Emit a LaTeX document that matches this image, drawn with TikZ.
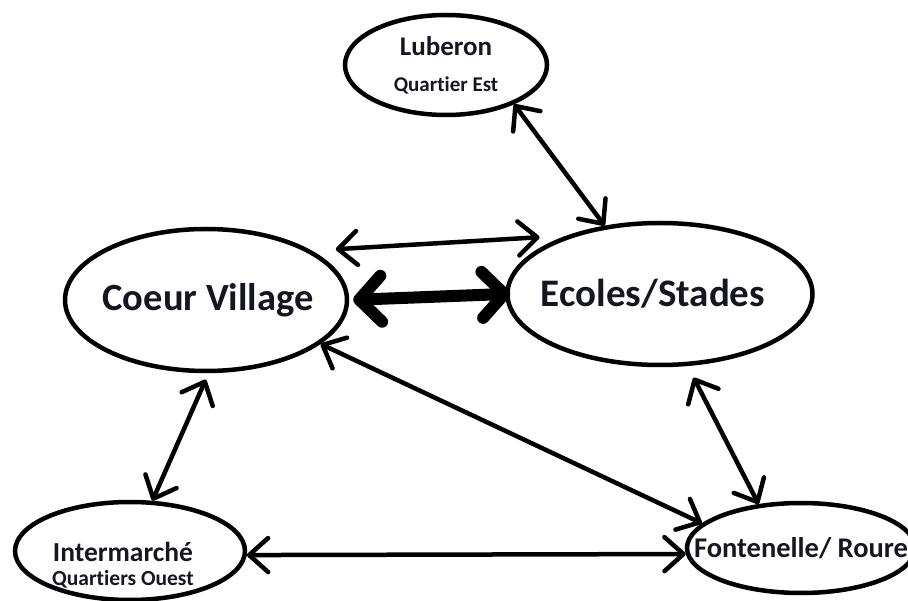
\documentclass[tikz,border=0pt]{standalone}
\usepackage{fontspec}
\setmainfont{Carlito}[Ligatures=NoCommon]
\usetikzlibrary{arrows.meta, shapes.geometric}
\definecolor{ink}{RGB}{22,22,34}

\begin{document}
\begin{tikzpicture}[x=1pt,y=-1pt,<->,>={Straight Barb[length=19pt,width=34pt,round]},
 line width=4.5pt,
 main node/.style={ellipse,draw,line width=4.5pt,inner sep=0pt},
 lab/.style={align=center,text=ink}]
\useasboundingbox (0,0) rectangle (908,601);

\node[main node,minimum width=202pt,minimum height=100pt](lub) at (446,65)
  [label={[lab,font=\fontsize{27}{36}\bfseries]center:Luberon\\{\fontsize{21}{36}\selectfont Quartier Est}}]{};
\node[main node,minimum width=282pt,minimum height=142pt](cv) at (206,300)
  [label={[lab,xshift=2pt,font=\fontsize{38.5}{40}\bfseries]center:Coeur Village}]{};
\node[main node,minimum width=305pt,minimum height=142pt](es) at (660,294)
  [label={[lab,xshift=-7pt,font=\fontsize{39}{40}\bfseries]center:Ecoles/Stades}]{};
\node[main node,minimum width=230pt,minimum height=98pt](im) at (130,551)
  [label={[lab,xshift=-7pt,yshift=-14pt,font=\fontsize{27.5}{24}\bfseries]center:Intermarché\\{\fontsize{21.5}{24}\selectfont Quartiers Ouest}}]{};
\node[main node,minimum width=228pt,minimum height=90pt](fr) at (801,548)
  [label={[lab,font=\fontsize{28.5}{30}\bfseries]center:Fontenelle/ Roure}]{};

 \path
   (lub.-30) edge (es.129)
   (cv.25) edge[shorten <=24pt,shorten >=27pt] (es.148)
   (cv.-21) edge (fr.166)
   (cv.-88) edge[shorten <=7pt] (im.66)
   (es.-69) edge[shorten <=13pt] (fr.134)
   (im.-2) edge (fr.183);
 \path[line width=12pt,>={Straight Barb[length=22pt,width=46pt,round]}]
   (cv.east) edge[shorten <=4pt,shorten >=-5pt] (es.west);

\end{tikzpicture}
\end{document}
